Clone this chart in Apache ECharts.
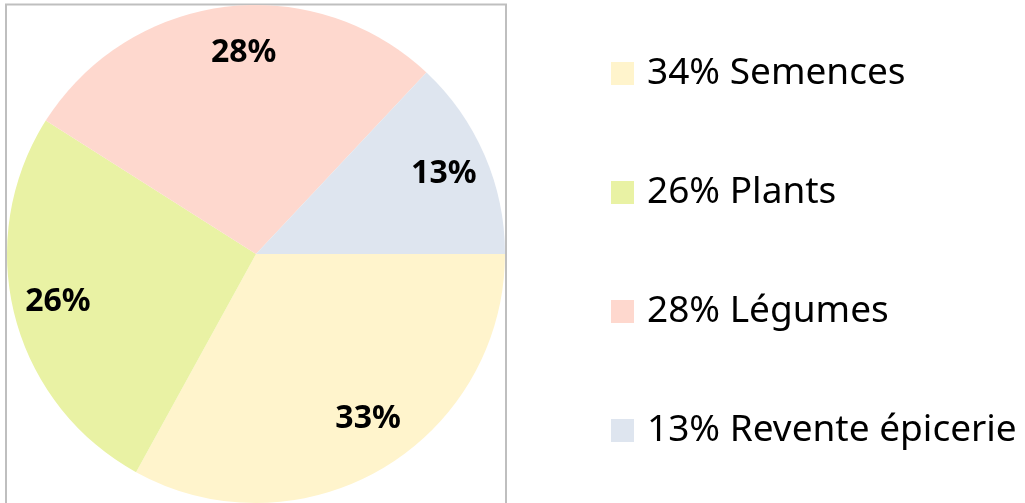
<!DOCTYPE html>
<html>
<head>
<meta charset="utf-8">
<script src="https://cdn.jsdelivr.net/npm/echarts@6/dist/echarts.min.js"></script>
<style>
  html, body { margin: 0; padding: 0; background: #fff; }
  #chart { width: 1025px; height: 503px; }
</style>
</head>
<body>
<div id="chart"></div>
<script>
// parts of the budget, clockwise from 3 o'clock
const categories = ['Semences', 'Plants', 'Légumes', 'Revente épicerie'];
const values = [33, 26, 28, 13];
// the legend shows its own percentages (34% for Semences)
const legendPercents = [34, 26, 28, 13];
const colors = ['#FFF4CC', '#E9F2A4', '#FED8CE', '#DEE5EF'];
// small nudges so labels sit where the original placed them
const labelNudges = [[9, -9], [-2, -2], [13, 0], [2, 0]];

const chart = echarts.init(document.getElementById('chart'));

const pieData = categories.map((name, i) => ({
  name: name,
  value: values[i],
  itemStyle: {color: colors[i]}
}));

const option = {
  backgroundColor: '#fff',
  animation: false,
  graphic: [{
    type: 'rect',
    shape: {x: 6, y: 4.5, width: 500, height: 540},
    style: {fill: 'none', stroke: '#BFBFBF', lineWidth: 2},
    z: -1
  }],
  legend: {
    orient: 'vertical',
    left: 606,
    top: 48,
    itemWidth: 23,
    itemHeight: 23,
    itemGap: 78,
    icon: 'rect',
    data: categories,
    formatter: function (name) {
      return legendPercents[categories.indexOf(name)] + '% ' + name;
    },
    textStyle: {
      fontFamily: 'Noto Sans',
      fontSize: 37,
      lineHeight: 41,
      color: '#000',
      padding: [0, 0, 0, 8]
    }
  },
  series: [
    {
      name: 'parts',
      type: 'pie',
      center: [256, 254],
      radius: [0, 249],
      startAngle: 0,
      clockwise: true,
      silent: true,
      label: {show: false},
      labelLine: {show: false},
      data: pieData
    },
    {
      // transparent ring that only carries the labels near the outer edge
      name: 'labels',
      type: 'pie',
      center: [256, 254],
      radius: [150, 249],
      startAngle: 0,
      clockwise: true,
      silent: true,
      itemStyle: {color: 'rgba(0,0,0,0)'},
      label: {
        show: true,
        position: 'inside',
        formatter: '{c}%',
        fontFamily: 'Noto Sans',
        fontWeight: 'bold',
        fontSize: 32,
        color: '#000'
      },
      labelLine: {show: false},
      data: categories.map((name, i) => ({
        name: name,
        value: values[i],
        label: {offset: labelNudges[i]}
      }))
    }
  ]
};

chart.setOption(option);
</script>
</body>
</html>
